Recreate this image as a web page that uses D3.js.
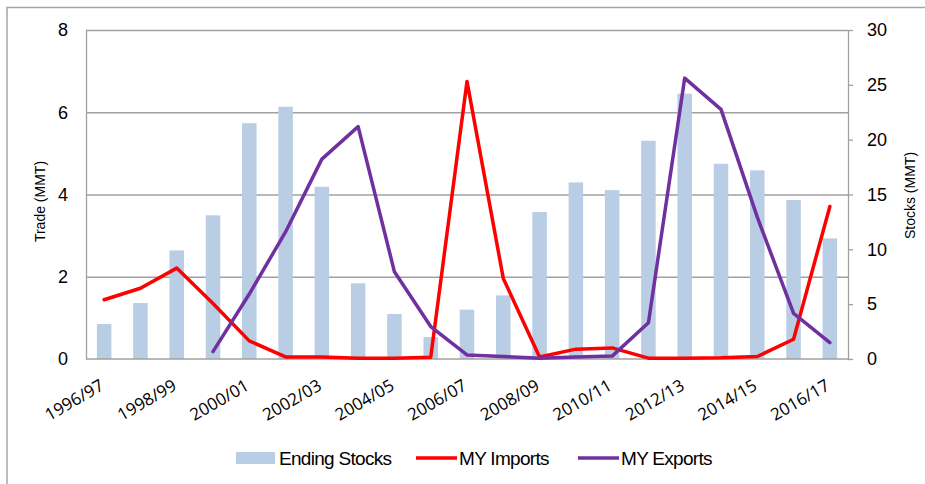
<!DOCTYPE html>
<html>
<head>
<meta charset="utf-8">
<script src="https://cdn.jsdelivr.net/npm/d3@7"></script>
<style>
  body { margin: 0; background: #fff; }
  svg { display: block; font-family: "Liberation Sans", Arial, sans-serif; }
</style>
</head>
<body>
<div id="chart"></div>
<script>
// ── Data ──
const years = ['1996/97', '1997/98', '1998/99', '1999/00', '2000/01', '2001/02', '2002/03',
  '2003/04', '2004/05', '2005/06', '2006/07', '2007/08', '2008/09', '2009/10', '2010/11',
  '2011/12', '2012/13', '2013/14', '2014/15', '2015/16', '2016/17'];
const endingStocks = [3.2, 5.1, 9.9, 13.1, 21.5, 23.0, 15.7, 6.9, 4.1, 2.0, 4.5, 5.8,
  13.4, 16.1, 15.4, 19.9, 24.2, 17.8, 17.2, 14.5, 11.0];
const myImports = [1.44, 1.72, 2.21, 1.35, 0.44, 0.05, 0.05, 0.02, 0.02, 0.04, 6.75, 1.96,
  0.05, 0.24, 0.27, 0.02, 0.02, 0.03, 0.06, 0.48, 3.71];
const myExports = [null, null, null, 0.18, 1.58, 3.09, 4.86, 5.65, 2.12, 0.79, 0.1, 0.06,
  0.02, 0.05, 0.07, 0.88, 6.83, 6.07, 3.45, 1.11, 0.40];
const tradeTicks = [0, 2, 4, 6, 8];
const stockTicks = [0, 5, 10, 15, 20, 25, 30];
const legendItems = [
  { label: 'Ending Stocks', type: 'bar', color: '#b9cde5' },
  { label: 'MY Imports', type: 'line', color: '#ff0000' },
  { label: 'MY Exports', type: 'line', color: '#7030a0' }
];

const W = 925, H = 484;
const margin = { top: 30, right: 77, bottom: 125, left: 86 };
const width = W - margin.left - margin.right;
const height = H - margin.top - margin.bottom;

const root = d3.select('#chart').append('svg')
  .attr('width', W).attr('height', H);

// Outer frame
root.append('rect')
  .attr('x', 7).attr('y', 7.5)
  .attr('width', W).attr('height', H)
  .attr('fill', 'none').attr('stroke', '#a6a6a6').attr('stroke-width', 1.5);

const svg = root.append('g')
  .attr('transform', `translate(${margin.left},${margin.top})`);

const x = d3.scaleBand().domain(years).range([0, width]);
const yL = d3.scaleLinear().domain([0, 8]).range([height, 0]);
const yR = d3.scaleLinear().domain([0, 30]).range([height, 0]);

// Grid
svg.append('g')
  .call(d3.axisLeft(yL).tickValues(tradeTicks.slice(1)).tickSize(-width).tickFormat(''))
  .call(g => g.select('.domain').remove())
  .selectAll('line').attr('stroke', '#a0a0a0').attr('stroke-width', 1.3);

// Bars
const barW = x.bandwidth() * 0.4;
svg.selectAll('.bar')
  .data(endingStocks)
  .enter()
  .append('rect')
  .attr('x', (d, i) => x(years[i]) + (x.bandwidth() - barW) / 2)
  .attr('y', d => yR(d))
  .attr('width', barW)
  .attr('height', d => height - yR(d))
  .attr('fill', '#b9cde5');

// Axes
const leftAxis = svg.append('g')
  .call(d3.axisLeft(yL).tickValues(tradeTicks).tickSize(0).tickPadding(18));
leftAxis.select('.domain').attr('stroke', '#a0a0a0').attr('stroke-width', 1.3);
leftAxis.selectAll('text').attr('fill', '#000').style('font-size', '18px')
  .style('font-family', '"Liberation Sans", Arial, sans-serif');

const rightAxis = svg.append('g')
  .attr('transform', `translate(${width},0)`)
  .call(d3.axisRight(yR).tickValues(stockTicks).tickSize(5).tickSizeOuter(0).tickPadding(14));
rightAxis.select('.domain').attr('stroke', '#a0a0a0').attr('stroke-width', 1.3);
rightAxis.selectAll('line').attr('stroke', '#a0a0a0').attr('stroke-width', 1.3);
rightAxis.selectAll('text').attr('fill', '#000').style('font-size', '18px')
  .style('font-family', '"Liberation Sans", Arial, sans-serif');

svg.append('line')
  .attr('x1', 0).attr('x2', width)
  .attr('y1', height).attr('y2', height)
  .attr('stroke', '#a0a0a0').attr('stroke-width', 1.3);

// X labels (every other year)
svg.selectAll('.xlab')
  .data(years.filter((d, i) => i % 2 === 0))
  .enter()
  .append('text')
  .attr('transform', d => `translate(${x(d) + x.bandwidth() / 2 + 1},${height + 30}) rotate(-30)`)
  .attr('text-anchor', 'end')
  .style('font-family', '"Open Sans", "Noto Sans", sans-serif')
  .style('font-size', '17px')
  .text(d => d);

// Lines
const lineGen = d3.line()
  .defined(d => d != null)
  .x((d, i) => x(years[i]) + x.bandwidth() / 2)
  .y(d => yL(d));

svg.append('path')
  .datum(myImports)
  .attr('fill', 'none')
  .attr('stroke', '#ff0000')
  .attr('stroke-width', 3.5)
  .attr('stroke-linejoin', 'round')
  .attr('stroke-linecap', 'round')
  .attr('d', lineGen);

svg.append('path')
  .datum(myExports)
  .attr('fill', 'none')
  .attr('stroke', '#7030a0')
  .attr('stroke-width', 3.5)
  .attr('stroke-linejoin', 'round')
  .attr('stroke-linecap', 'round')
  .attr('d', lineGen);

// Axis titles
svg.append('text')
  .attr('transform', `translate(-41,${height / 2 + 7}) rotate(-90)`)
  .attr('text-anchor', 'middle')
  .style('font-size', '14px')
  .text('Trade (MMT)');

svg.append('text')
  .attr('transform', `translate(${width + 67},${height / 2 + 1}) rotate(-90)`)
  .attr('text-anchor', 'middle')
  .style('font-size', '14px')
  .text('Stocks (MMT)');

// Legend
const legendX = [236, 416, 578];
const legend = root.append('g');
legendItems.forEach((d, i) => {
  const g = legend.append('g').attr('transform', `translate(${legendX[i]},458)`);
  if (d.type === 'bar') {
    g.append('rect').attr('x', 0).attr('y', -6).attr('width', 39).attr('height', 12).attr('fill', d.color);
  } else {
    g.append('line').attr('x1', 0).attr('x2', 41).attr('y1', 0).attr('y2', 0)
      .attr('stroke', d.color).attr('stroke-width', 3.5);
  }
  g.append('text')
    .attr('x', 43)
    .attr('y', 0)
    .attr('dy', '0.36em')
    .style('font-size', '19px')
    .style('letter-spacing', '-0.7px')
    .text(d.label);
});
</script>
</body>
</html>
